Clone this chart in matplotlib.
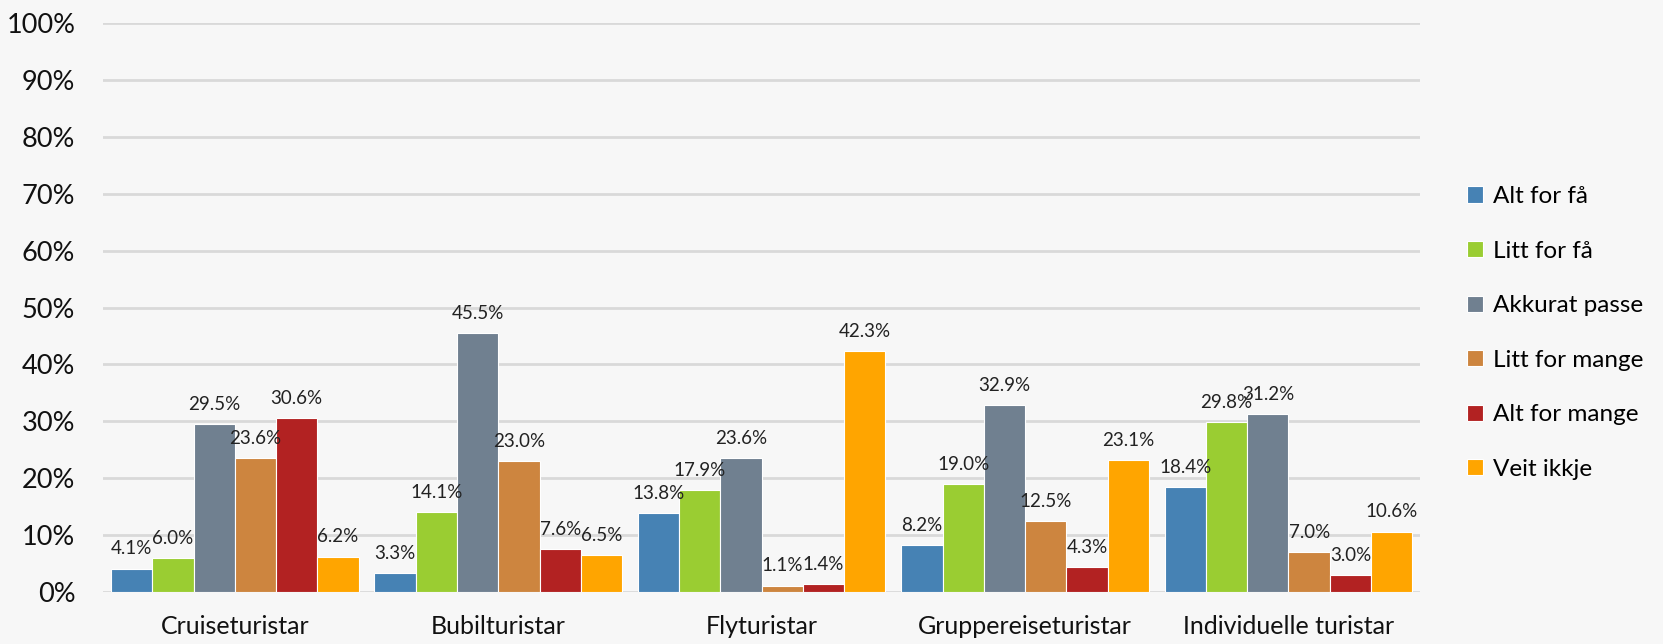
import matplotlib.pyplot as plt
import numpy as np

plt.rcParams['font.family'] = ['Lato', 'DejaVu Sans']

categories = ["Cruiseturistar", "Bubilturistar", "Flyturistar",
              "Gruppereiseturistar", "Individuelle turistar"]
series = ["Alt for få", "Litt for få", "Akkurat passe",
          "Litt for mange", "Alt for mange", "Veit ikkje"]
values = {
    "Alt for få":     [4.1, 3.3, 13.8, 8.2, 18.4],
    "Litt for få":    [6.0, 14.1, 17.9, 19.0, 29.8],
    "Akkurat passe":  [29.5, 45.5, 23.6, 32.9, 31.2],
    "Litt for mange": [23.6, 23.0, 1.1, 12.5, 7.0],
    "Alt for mange":  [30.6, 7.6, 1.4, 4.3, 3.0],
    "Veit ikkje":     [6.2, 6.5, 42.3, 23.1, 10.6],
}
colors = ["#4682B4", "#9ACD32", "#708090", "#CD853F", "#B22222", "#FFA500"]
yticks = [0, 10, 20, 30, 40, 50, 60, 70, 80, 90, 100]

bg = "#F7F7F7"
fig = plt.figure(figsize=(16.63, 6.44), dpi=100, facecolor=bg)
ax = fig.add_axes([0.062, 0.081, 0.792, 0.883], facecolor=bg)

x = np.arange(len(categories))
n = len(series)
bw = 0.94 / n
for i, (s, c) in enumerate(zip(series, colors)):
    pos = x - 0.47 + bw * (i + 0.5)
    ax.bar(pos, values[s], width=bw, color=c, edgecolor="white",
           linewidth=0.8, label=s, zorder=3)
    for xp, v in zip(pos, values[s]):
        ax.annotate(f"{v:.1f}%", (xp, v), xytext=(0, 8), textcoords="offset points",
                    ha="center", va="bottom", fontsize=13.5, color="#222222", zorder=4)

ax.set_xlim(-0.5, len(categories) - 0.5)
ax.set_ylim(0, 100)
ax.set_yticks(yticks)
ax.set_yticklabels([f"{t}%" for t in yticks], fontsize=19.5)
ax.set_xticks(x)
ax.set_xticklabels(categories, fontsize=18)
ax.tick_params(axis="both", length=0, colors="#111111")
ax.tick_params(axis="x", pad=17)
ax.tick_params(axis="y", pad=20)
ax.grid(axis="y", color="#D9D9D9", linewidth=2, zorder=0)
for sp in ax.spines.values():
    sp.set_visible(False)

fig.legend(loc="upper left", bbox_to_anchor=(0.869, 0.745), frameon=False,
           fontsize=17.5, handlelength=0.65, handleheight=0.65, handletextpad=0.4,
           labelspacing=1.38)

fig.savefig("out.png", dpi=100, facecolor=bg)
